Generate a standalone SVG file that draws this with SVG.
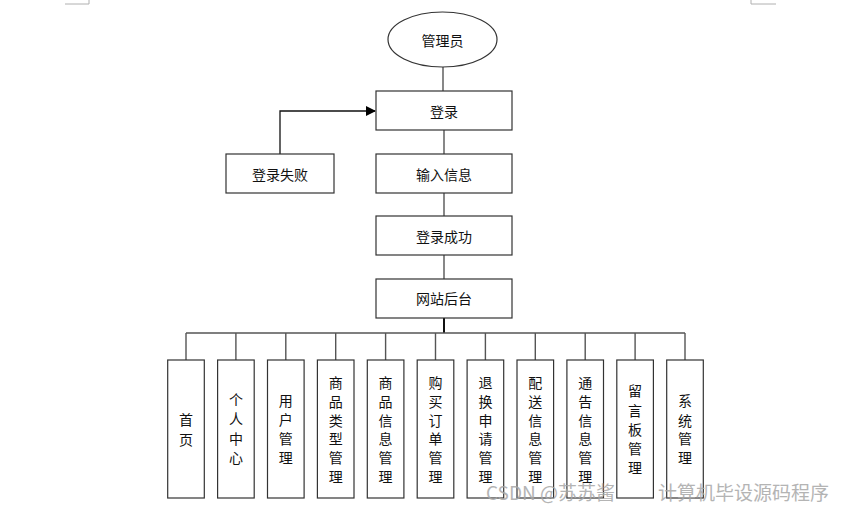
<svg xmlns="http://www.w3.org/2000/svg" width="846" height="512" viewBox="0 0 846 512">
<style>
.box{fill:#ffffff;stroke:#333333;stroke-width:1.2}
.ln{fill:none;stroke:#555555;stroke-width:1.4}
.t{font-family:"Noto Sans CJK SC","Liberation Sans",sans-serif;font-size:14px;fill:#111111;text-anchor:middle;dominant-baseline:central}
.mark{fill:none;stroke:#b0b0b0;stroke-width:1}
.wm{font-family:"Noto Sans CJK SC","Liberation Sans",sans-serif;font-size:19px;fill:#a8a8a8;opacity:0.85}
</style>
<defs>
<marker id="arr" markerWidth="10" markerHeight="10" refX="9" refY="5" orient="auto" markerUnits="userSpaceOnUse">
<path d="M0,0 L10,5 L0,10 Z" fill="#000000"/>
</marker>
</defs>
<g id="page-marks">
<path class="mark" d="M65,4 H89 V0"/>
<path class="mark" d="M751,0 V4 H776"/>
</g>
<g id="connectors">
<path class="ln" d="M443,67 V91"/>
<path class="ln" d="M444,130 V154"/>
<path class="ln" d="M444,193 V216"/>
<path class="ln" d="M444,255 V279"/>
<path d="M444,318 V333" fill="none" stroke="#111" stroke-width="2"/>
<path class="ln" d="M186,333 H685"/>
<path d="M280,154 V111 H375" fill="none" stroke="#111" stroke-width="1.3" marker-end="url(#arr)"/>
<path class="ln" d="M186,333 V360 M235.9,333 V360 M285.8,333 V360 M335.7,333 V360 M385.6,333 V360 M435.5,333 V360 M485.4,333 V360 M535.3,333 V360 M585.2,333 V360 M635.1,333 V360 M685,333 V360"/>
</g>
<g id="admin"><ellipse class="box" cx="442.5" cy="39.5" rx="54.5" ry="27.5"/><text class="t" x="442.5" y="40">管理员</text></g>
<g id="login"><rect class="box" x="376" y="91" width="136" height="39"/><text class="t" x="444" y="111">登录</text></g>
<g id="login-fail"><rect class="box" x="226" y="154" width="108" height="39"/><text class="t" x="280" y="174">登录失败</text></g>
<g id="input-info"><rect class="box" x="376" y="154" width="136" height="39"/><text class="t" x="444" y="174">输入信息</text></g>
<g id="login-success"><rect class="box" x="376" y="216" width="136" height="39"/><text class="t" x="444" y="236">登录成功</text></g>
<g id="backend"><rect class="box" x="376" y="279" width="136" height="39"/><text class="t" x="444" y="298">网站后台</text></g>
<g id="m1"><rect class="box" x="167.7" y="360" width="36.6" height="138"/><text class="t" x="186"><tspan x="186" y="419">首</tspan><tspan x="186" y="439">页</tspan></text></g>
<g id="m2"><rect class="box" x="217.6" y="360" width="36.6" height="138"/><text class="t"><tspan x="235.9" y="399">个</tspan><tspan x="235.9" y="418">人</tspan><tspan x="235.9" y="438">中</tspan><tspan x="235.9" y="457">心</tspan></text></g>
<g id="m3"><rect class="box" x="267.5" y="360" width="36.6" height="138"/><text class="t"><tspan x="285.8" y="400">用</tspan><tspan x="285.8" y="419">户</tspan><tspan x="285.8" y="438">管</tspan><tspan x="285.8" y="457">理</tspan></text></g>
<g id="m4"><rect class="box" x="317.4" y="360" width="36.6" height="138"/><text class="t"><tspan x="335.7" y="382">商</tspan><tspan x="335.7" y="401">品</tspan><tspan x="335.7" y="420">类</tspan><tspan x="335.7" y="438">型</tspan><tspan x="335.7" y="457">管</tspan><tspan x="335.7" y="476">理</tspan></text></g>
<g id="m5"><rect class="box" x="367.3" y="360" width="36.6" height="138"/><text class="t"><tspan x="385.6" y="382">商</tspan><tspan x="385.6" y="401">品</tspan><tspan x="385.6" y="420">信</tspan><tspan x="385.6" y="438">息</tspan><tspan x="385.6" y="457">管</tspan><tspan x="385.6" y="476">理</tspan></text></g>
<g id="m6"><rect class="box" x="417.2" y="360" width="36.6" height="138"/><text class="t"><tspan x="435.5" y="382">购</tspan><tspan x="435.5" y="401">买</tspan><tspan x="435.5" y="420">订</tspan><tspan x="435.5" y="438">单</tspan><tspan x="435.5" y="457">管</tspan><tspan x="435.5" y="476">理</tspan></text></g>
<g id="m7"><rect class="box" x="467.1" y="360" width="36.6" height="138"/><text class="t"><tspan x="485.4" y="382">退</tspan><tspan x="485.4" y="401">换</tspan><tspan x="485.4" y="420">申</tspan><tspan x="485.4" y="438">请</tspan><tspan x="485.4" y="457">管</tspan><tspan x="485.4" y="476">理</tspan></text></g>
<g id="m8"><rect class="box" x="517" y="360" width="36.6" height="138"/><text class="t"><tspan x="535.3" y="382">配</tspan><tspan x="535.3" y="401">送</tspan><tspan x="535.3" y="420">信</tspan><tspan x="535.3" y="438">息</tspan><tspan x="535.3" y="457">管</tspan><tspan x="535.3" y="476">理</tspan></text></g>
<g id="m9"><rect class="box" x="566.9" y="360" width="36.6" height="138"/><text class="t"><tspan x="585.2" y="382">通</tspan><tspan x="585.2" y="401">告</tspan><tspan x="585.2" y="420">信</tspan><tspan x="585.2" y="438">息</tspan><tspan x="585.2" y="457">管</tspan><tspan x="585.2" y="476">理</tspan></text></g>
<g id="m10"><rect class="box" x="616.8" y="360" width="36.6" height="138"/><text class="t"><tspan x="635.1" y="390">留</tspan><tspan x="635.1" y="410">言</tspan><tspan x="635.1" y="429">板</tspan><tspan x="635.1" y="448">管</tspan><tspan x="635.1" y="467">理</tspan></text></g>
<g id="m11"><rect class="box" x="666.7" y="360" width="36.6" height="138"/><text class="t"><tspan x="685" y="400">系</tspan><tspan x="685" y="420">统</tspan><tspan x="685" y="438">管</tspan><tspan x="685" y="457">理</tspan></text></g>
<g id="watermark"><text class="wm" x="486" y="500">CSDN @苏苏酱</text><text class="wm" x="658" y="500">计算机毕设源码程序</text></g>
</svg>
